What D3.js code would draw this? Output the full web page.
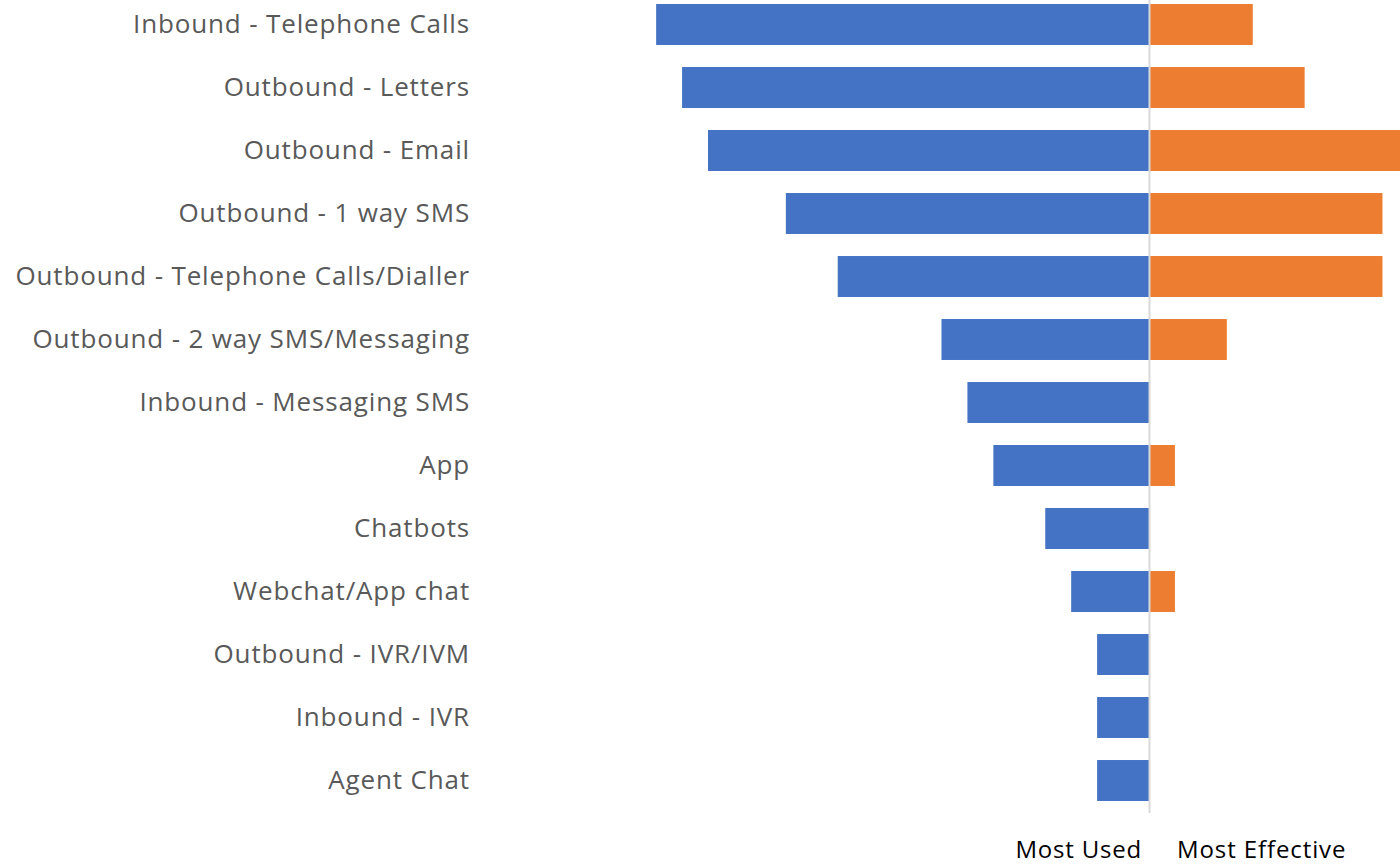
<!DOCTYPE html>
<html>
<head>
<meta charset="utf-8">
<script src="https://cdn.jsdelivr.net/npm/d3@7"></script>
<style>
  html, body { margin: 0; padding: 0; background: #fff; overflow: hidden; }
  svg { display: block; }
</style>
</head>
<body>
<script>
// Channels, top to bottom
const channels = [
  "Inbound - Telephone Calls",
  "Outbound - Letters",
  "Outbound - Email",
  "Outbound - 1 way SMS",
  "Outbound - Telephone Calls/Dialler",
  "Outbound - 2 way SMS/Messaging",
  "Inbound - Messaging SMS",
  "App",
  "Chatbots",
  "Webchat/App chat",
  "Outbound - IVR/IVM",
  "Inbound - IVR",
  "Agent Chat"
];
// Number of responses per channel
const mostUsed      = [19, 18, 17, 14, 12, 8, 7, 6, 4, 3, 2, 2, 2];
const mostEffective = [4, 6, 10, 9, 9, 3, 0, 1, 0, 1, 0, 0, 0];
const seriesLabels = ["Most Used", "Most Effective"];

const W = 1400, H = 866;
const centerX = 1149;
const unit = 25.94;
const fontStack = "'Open Sans', 'Noto Sans', sans-serif";

const svg = d3.select("body").append("svg")
  .attr("width", W).attr("height", H);

const y = d3.scaleBand()
  .domain(channels)
  .range([-7, 812])
  .paddingInner(0.35)
  .paddingOuter(0.175);

const maxVal = 20;
const xLeft = d3.scaleLinear().domain([0, maxVal]).range([centerX, centerX - maxVal * unit]);
const xRight = d3.scaleLinear().domain([0, maxVal]).range([centerX, centerX + maxVal * unit]);

// Most Used bars extend to the left
svg.append("g").selectAll("rect")
  .data(channels)
  .join("rect")
  .attr("x", (d, i) => xLeft(mostUsed[i]))
  .attr("y", d => y(d))
  .attr("width", (d, i) => xLeft(0) - xLeft(mostUsed[i]))
  .attr("height", y.bandwidth())
  .attr("fill", "#4472c4");

// Most Effective bars extend to the right
svg.append("g").selectAll("rect")
  .data(channels)
  .join("rect")
  .attr("x", xRight(0))
  .attr("y", d => y(d))
  .attr("width", (d, i) => xRight(mostEffective[i]) - xRight(0))
  .attr("height", y.bandwidth())
  .attr("fill", "#ed7d31");

// Central axis line
svg.append("line")
  .attr("x1", centerX + 0.5).attr("x2", centerX + 0.5)
  .attr("y1", 0).attr("y2", 813)
  .attr("stroke", "#d9d9d9")
  .attr("stroke-width", 2);

// Category labels
const yAxis = d3.axisLeft(y).tickSize(0).tickPadding(0);
const gy = svg.append("g")
  .attr("transform", "translate(470,0)")
  .call(yAxis);
gy.select(".domain").remove();
gy.selectAll("text")
  .attr("fill", "#595959")
  .attr("dy", "0.34em")
  .style("font-family", fontStack)
  .style("font-size", "26px")
  .style("letter-spacing", "0.85px");

// Series labels beneath the bars
svg.append("text")
  .attr("x", 1142).attr("y", 858)
  .attr("text-anchor", "end")
  .attr("fill", "#000")
  .style("font-family", fontStack)
  .style("font-size", "24px")
  .style("letter-spacing", "0.8px")
  .text(seriesLabels[0]);
svg.append("text")
  .attr("x", 1177).attr("y", 858)
  .attr("text-anchor", "start")
  .attr("fill", "#000")
  .style("font-family", fontStack)
  .style("font-size", "24px")
  .style("letter-spacing", "0.9px")
  .text(seriesLabels[1]);
</script>
</body>
</html>
